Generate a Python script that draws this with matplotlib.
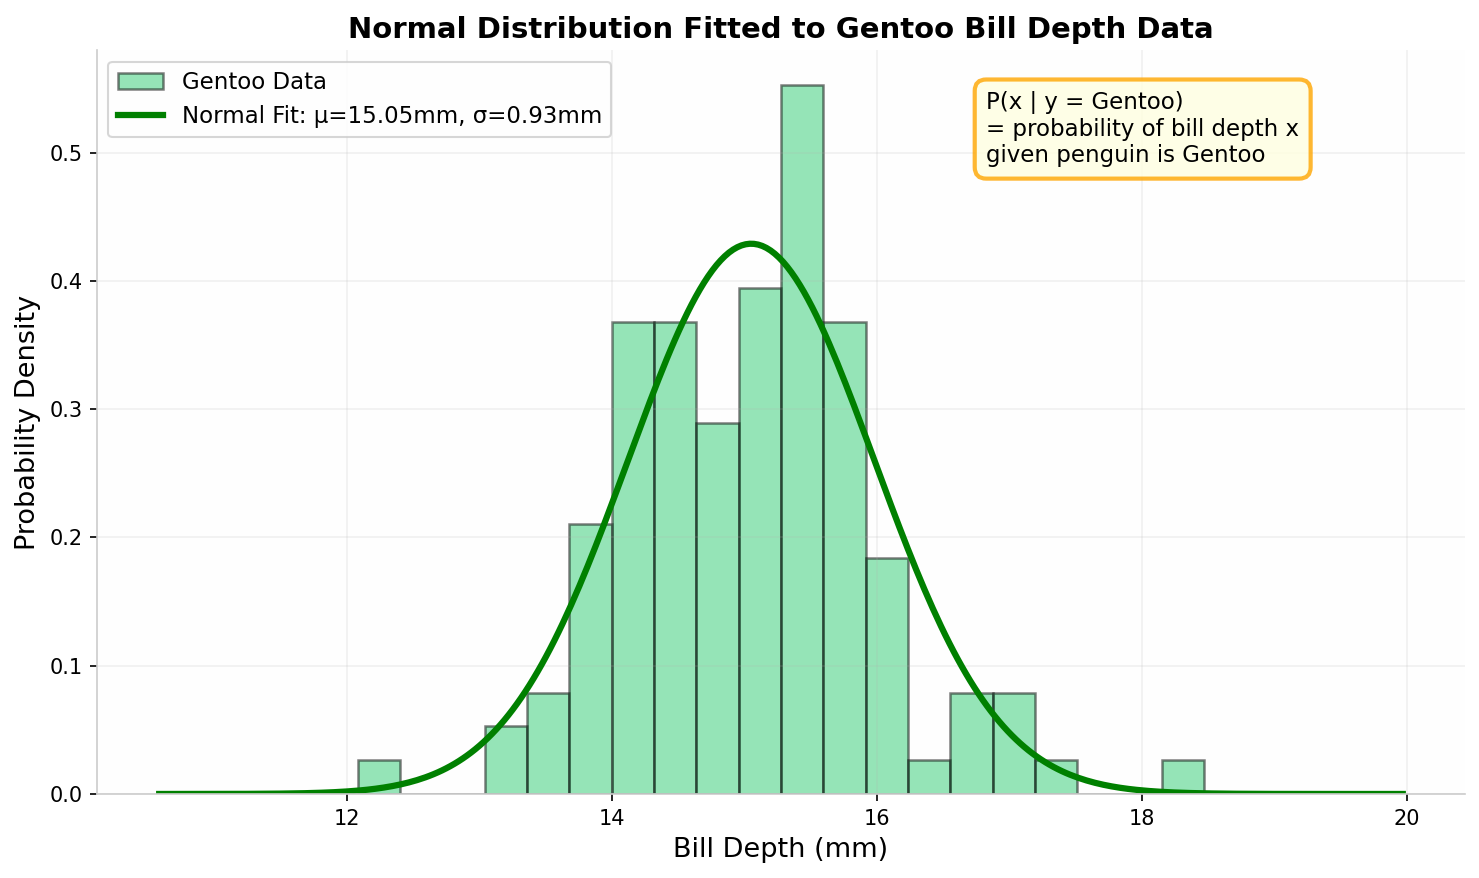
import numpy as np
import matplotlib.pyplot as plt

# Gentoo bill depth histogram (counts per bin)
bin_edges = np.linspace(12.08, 18.47, 21)
bin_counts = [1, 0, 0, 2, 3, 8, 14, 14, 11, 15, 21, 14, 7, 1, 3, 3, 1, 0, 0, 1]

# fitted normal parameters
mu = 15.05
sigma = 0.93

fig, ax = plt.subplots(figsize=(1479 / 150, 878 / 150), dpi=150)
fig.subplots_adjust(left=0.0656, right=0.9905, top=0.943, bottom=0.0957)
ax.set_facecolor('#fefefe')

centers = (bin_edges[:-1] + bin_edges[1:]) / 2
ax.hist(centers, bins=bin_edges, weights=bin_counts, density=True,
        color='#2ecc71', alpha=0.5, edgecolor='black', linewidth=1.2,
        label='Gentoo Data')

x = np.linspace(bin_edges[0] - 1.5, bin_edges[-1] + 1.5, 300)
pdf = np.exp(-0.5 * ((x - mu) / sigma) ** 2) / (sigma * np.sqrt(2 * np.pi))
ax.plot(x, pdf, color='green', linewidth=3,
        label=f'Normal Fit: μ={mu:.2f}mm, σ={sigma:.2f}mm')

ax.set_xlabel('Bill Depth (mm)', fontsize=13)
ax.set_ylabel('Probability Density', fontsize=13)
ax.set_title('Normal Distribution Fitted to Gentoo Bill Depth Data',
             fontsize=14, fontweight='bold')

ax.text(0.650, 0.945, 'P(x | y = Gentoo)\n= probability of bill depth x\ngiven penguin is Gentoo',
        transform=ax.transAxes, fontsize=11, va='top',
        bbox=dict(boxstyle='round,pad=0.5', facecolor='lightyellow',
                  edgecolor='orange', alpha=0.8, linewidth=2))

ax.legend(loc='upper left', fontsize=11)
ax.grid(True, alpha=0.18)
ax.spines['top'].set_visible(False)
ax.spines['right'].set_visible(False)
ax.spines['left'].set_color('#cccccc')
ax.spines['bottom'].set_color('#cccccc')

plt.savefig('out.png', dpi=150)
